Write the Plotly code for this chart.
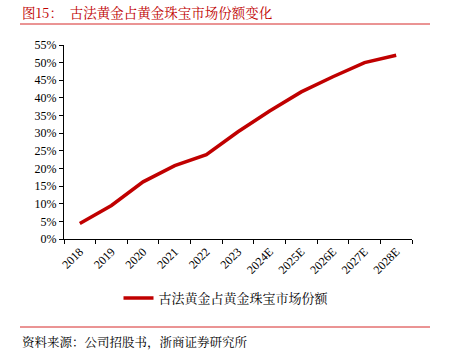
import plotly.graph_objects as go

categories = ["2018", "2019", "2020", "2021", "2022", "2023", "2024E", "2025E", "2026E", "2027E", "2028E"]
share = [4.4, 9.5, 16.2, 20.8, 23.9, 30.4, 36.3, 41.7, 46.0, 50.0, 52.1]
series_name = "古法黄金占黄金珠宝市场份额"
y_ticks = list(range(0, 56, 5))
y_labels = [f"{v}%" for v in y_ticks]

W, H = 451, 360
L, T = 64, 45
R = W - 412
B = H - 239
pw, ph = W - L - R, H - T - B

def px_x(x):
    return (x - L) / pw

def px_y(y):
    return (H - B - y) / ph

cjk = "Noto Serif CJK SC, Noto Sans CJK SC, serif"
serif = "Liberation Serif, Times New Roman, serif"
fig = go.Figure()
fig.add_trace(go.Scatter(x=categories, y=share, mode="lines", name=series_name,
                         line=dict(color="#C00000", width=3.5)))

fig.update_layout(
    width=W, height=H, margin=dict(l=L, r=R, t=T, b=B, autoexpand=False),
    plot_bgcolor="white", paper_bgcolor="white",
    showlegend=True,
    legend=dict(orientation="h", x=px_x(226), xanchor="center", y=px_y(298), yanchor="middle",
                font=dict(family=cjk, size=13, color="#000"), itemwidth=30),
    xaxis=dict(type="category", range=[-0.5, len(categories) - 0.5], automargin=False,
               showline=True, linecolor="#000", linewidth=1,
               ticks="outside", tickson="boundaries", ticklen=4, tickcolor="#000",
               tickangle=-45, showgrid=False,
               tickfont=dict(family=serif, size=12, color="#000")),
    yaxis=dict(range=[0, 55], tickvals=y_ticks, ticktext=y_labels, automargin=False,
               showline=True, linecolor="#000",
               linewidth=1, ticks="outside", ticklen=4, tickcolor="#000", showgrid=False,
               zeroline=False,
               tickfont=dict(family=serif, size=12, color="#000")),
    shapes=[
        dict(type="line", xref="paper", yref="paper", x0=px_x(20), x1=px_x(430),
             y0=px_y(24), y1=px_y(24), line=dict(color="#D62828", width=1)),
        dict(type="line", xref="paper", yref="paper", x0=px_x(20), x1=px_x(430),
             y0=px_y(327), y1=px_y(327), line=dict(color="#D62828", width=1)),
    ],
    annotations=[
        dict(text="图15：  古法黄金占黄金珠宝市场份额变化", xref="paper", yref="paper",
             x=px_x(20), y=px_y(12), xanchor="left", yanchor="middle", showarrow=False,
             font=dict(family=cjk, size=13.5, color="#C00000")),
        dict(text="资料来源：公司招股书，浙商证券研究所", xref="paper", yref="paper",
             x=px_x(20), y=px_y(342), xanchor="left", yanchor="middle", showarrow=False,
             font=dict(family=cjk, size=12.5, color="#000")),
    ],
)

fig.write_html("out.html", config={"displayModeBar": False},
               post_script="document.body.style.margin='0';")
